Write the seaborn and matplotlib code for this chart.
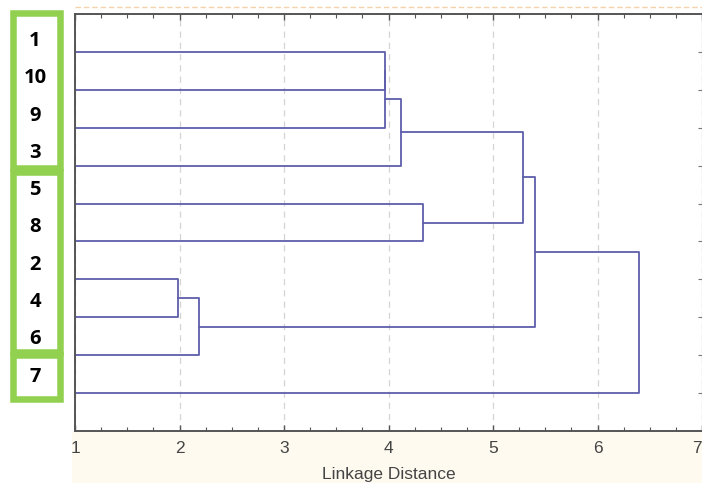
import numpy as np
import pandas as pd
import matplotlib
matplotlib.use("Agg")
import matplotlib.pyplot as plt
import matplotlib.patches as patches
from matplotlib import font_manager
from matplotlib.ticker import MultipleLocator
import seaborn as sns

# ------------------- données -------------------
# ordre des feuilles (de haut en bas)
leaf_labels = ["1", "10", "9", "3", "5", "8", "2", "4", "6", "7"]

# fusions successives : groupe a + groupe b -> nouveau groupe, à une distance donnée
merge_names = ["A", "B", "C", "D", "E", "F", "G", "H", "I"]
merge_a = ["1", "A", "B", "5", "C", "2", "F", "E", "H"]
merge_b = ["10", "9", "3", "8", "D", "4", "6", "G", "7"]
merge_dist = [3.97, 3.97, 4.12, 4.33, 5.29, 1.99, 2.19, 5.40, 6.40]

x_ticks = [1, 2, 3, 4, 5, 6, 7]

# ------------------- construction des segments -------------------
pos = {lab: (0.0, i + 1.0) for i, lab in enumerate(leaf_labels)}  # (hauteur, y)
rows = []
for k, (name, a, b, d) in enumerate(zip(merge_names, merge_a, merge_b, merge_dist)):
    ha, ya = pos[a]
    hb, yb = pos[b]
    for j, (xx, yy) in enumerate([(ha, ya), (d, ya), (d, yb), (hb, yb)]):
        rows.append({"seg": k, "ordre": j, "x": xx, "y": yy})
    pos[name] = (d, (ya + yb) / 2)
df = pd.DataFrame(rows)

# ------------------- figure -------------------
W, H = 702, 483
sns.set_style("white")
names = {f.name for f in font_manager.fontManager.ttflist}
tick_font = "Liberation Sans Narrow" if "Liberation Sans Narrow" in names else "Liberation Sans"
label_font = "Open Sans" if "Open Sans" in names else "DejaVu Sans"

fig = plt.figure(figsize=(W / 100, H / 100), dpi=100, facecolor="white")

def px(x, y):
    return x / W, 1 - y / H

# fond crème sous le graphique (capture Statistica)
fig.add_artist(patches.Rectangle(px(72, H), (W - 72) / W, (H - 431) / H,
                                 transform=fig.transFigure, facecolor="#fefaf0",
                                 edgecolor="none", zorder=0))
# pointillé orange en haut
fig.add_artist(plt.Line2D([75 / W, 1], [1 - 6.5 / H, 1 - 6.5 / H], transform=fig.transFigure,
                          color="#f6d2aa", lw=1.0, ls=(0, (4, 2)), zorder=0))

ax = fig.add_axes([75 / W, (H - 431) / H, (W - 75) / W, 417 / H])
ax.set_facecolor("white")

sns.lineplot(data=df, x="x", y="y", units="seg", estimator=None, sort=False,
             color="#5e5eab", lw=1.3, ax=ax, legend=False)

ax.set_xlim(1, 7)
ax.set_ylim(11, 0)
ax.set_xticks(x_ticks)
ax.set_xticklabels([str(t) for t in x_ticks], fontfamily=tick_font, fontsize=12.5, color="#444444")
# le dernier libellé est collé au bord droit
ax.get_xticklabels()[-1].set_horizontalalignment("right")
ax.xaxis.set_minor_locator(MultipleLocator(0.25))
ax.tick_params(axis="x", which="both", direction="in", top=True, bottom=True,
               color="#555555", pad=7)
ax.tick_params(axis="x", which="major", length=4, width=1)
ax.tick_params(axis="x", which="minor", length=3, width=0.8)
ax.set_yticks(np.arange(1, len(leaf_labels) + 1))
ax.tick_params(axis="y", which="both", left=False, right=True, labelleft=False,
               direction="in", length=3, color="#777777")
ax.grid(axis="x", which="major", color="#d4d4d4", ls=(0, (5, 4)), lw=0.9)
ax.grid(axis="y", visible=False)
ax.set_axisbelow(True)
for s in ["left", "top", "bottom"]:
    ax.spines[s].set_color("#555555")
    ax.spines[s].set_linewidth(1.4)
ax.spines["right"].set_color("#bbbbbb")
ax.set_xlabel("Linkage Distance", fontfamily=tick_font, fontsize=12.5, color="#444444", labelpad=8)
ax.set_ylabel("")

# étiquettes des feuilles en gras, à gauche
for i, lab in enumerate(leaf_labels):
    x0, y0 = px(35, 41 + 37.3 * i)
    fig.text(x0, y0, lab, ha="center", va="center", fontfamily=label_font,
             fontweight="bold", fontsize=14.5, color="black")

# cadres verts
box_edges = [(13, 168), (172, 352), (355, 398.5)]
for (top, bot) in box_edges:
    x0, y0 = px(12.5, bot)
    fig.add_artist(patches.Rectangle((x0, y0), 47 / W, (bot - top) / H,
                                     transform=fig.transFigure, facecolor="none",
                                     edgecolor="#92d050", lw=4.7, joinstyle="miter"))

fig.savefig("out.png", dpi=100, facecolor=fig.get_facecolor())
